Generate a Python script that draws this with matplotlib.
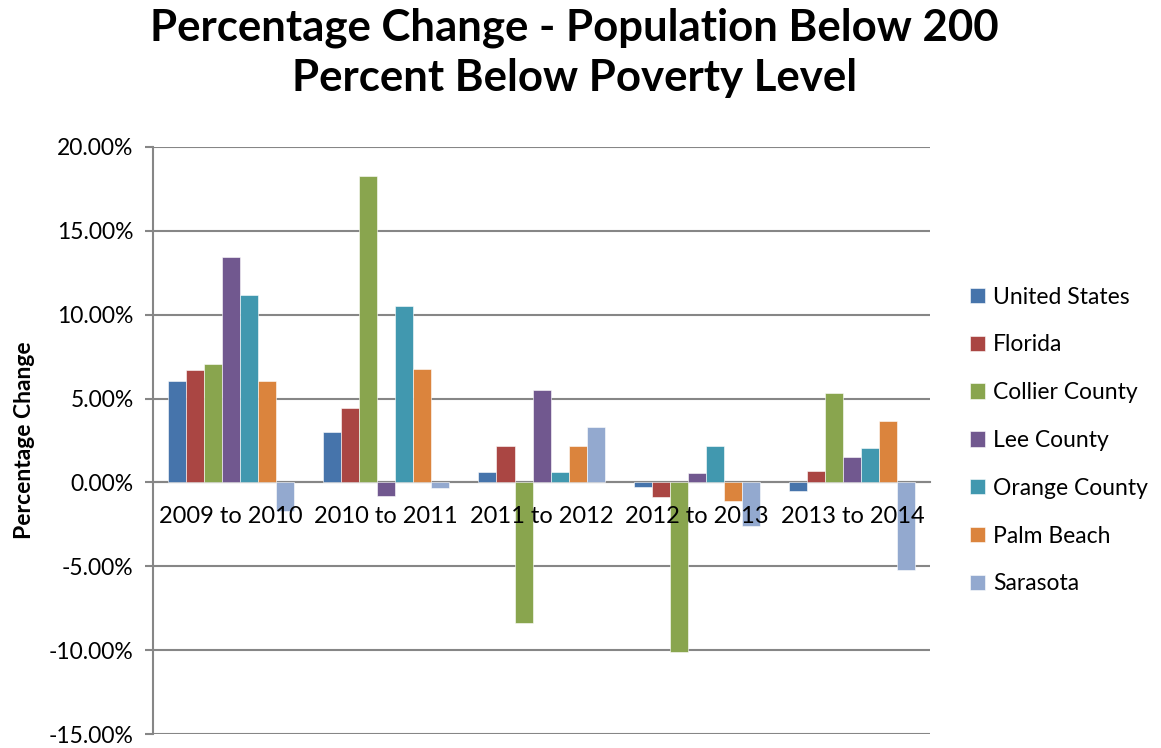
import numpy as np
import matplotlib.pyplot as plt
from matplotlib.ticker import PercentFormatter

plt.rcParams['font.family'] = ['Lato', 'DejaVu Sans']
plt.rcParams['axes.unicode_minus'] = False

periods = ['2009 to 2010', '2010 to 2011', '2011 to 2012', '2012 to 2013', '2013 to 2014']
series = ['United States', 'Florida', 'Collier County', 'Lee County',
          'Orange County', 'Palm Beach', 'Sarasota']

# percentage change per period
united_states = [6.04, 2.98, 0.60, -0.28, -0.54]
florida = [6.70, 4.43, 2.20, -0.89, 0.69]
collier = [7.05, 18.27, -8.37, -10.12, 5.36]
lee = [13.43, -0.82, 5.50, 0.58, 1.51]
orange = [11.19, 10.51, 0.65, 2.17, 2.08]
palm_beach = [6.04, 6.78, 2.18, -1.13, 3.65]
sarasota = [-1.69, -0.36, 3.30, -2.62, -5.24]

values = [united_states, florida, collier, lee, orange, palm_beach, sarasota]
colors = ['#4674AB', '#AA4643', '#89A54E', '#71588F', '#4198AF', '#DB843D', '#93A9CF']

fig = plt.figure(figsize=(11.61, 7.48), dpi=100)
ax = fig.add_axes([0.1318, 0.0187, 0.6693, 0.7848])

x = np.arange(len(periods))
bw = 0.116
for i, (name, vals) in enumerate(zip(series, values)):
    offs = (i - 3) * bw
    ax.bar(x + offs, vals, width=bw, color=colors[i], label=name,
           edgecolor='white', linewidth=0.4, zorder=3)

ax.set_xlim(-0.5, len(periods) - 0.5)
ax.set_ylim(-15, 20)
ax.set_yticks(np.arange(-15, 20.1, 5))
ax.yaxis.set_major_formatter(PercentFormatter(decimals=2))
ax.grid(axis='y', color='#868686', linewidth=1.5, zorder=1)
ax.set_axisbelow(True)

for s in ['top', 'right']:
    ax.spines[s].set_visible(False)
ax.spines['left'].set_color('#868686')
ax.spines['left'].set_linewidth(1.5)
ax.spines['bottom'].set_position(('data', 0))
ax.spines['bottom'].set_color('#868686')
ax.spines['bottom'].set_linewidth(1.5)

# category labels sit just under the zero line, drawn over the bars
ax.set_xticks(x)
ax.set_xticklabels([])
ax.tick_params(axis='x', length=0)
for xi, lab in zip(x, periods):
    ax.text(xi, -2.05, lab, ha='center', va='center', fontsize=17, zorder=6)

ax.tick_params(axis='y', labelsize=16.5, length=6, width=1.5, color='#868686', pad=8)

ax.set_ylabel('Percentage Change', fontsize=16.5, fontweight='bold', labelpad=10)

fig.suptitle('Percentage Change - Population Below 200\nPercent Below Poverty Level',
             x=0.495, y=0.99, fontsize=31.5, fontweight='bold', linespacing=1.3)

ax.legend(loc='center left', bbox_to_anchor=(1.025, 0.5), frameon=False,
          fontsize=16.5, handlelength=0.65, handleheight=0.65, labelspacing=1.17,
          handletextpad=0.35)

fig.savefig('out.png', dpi=100)
